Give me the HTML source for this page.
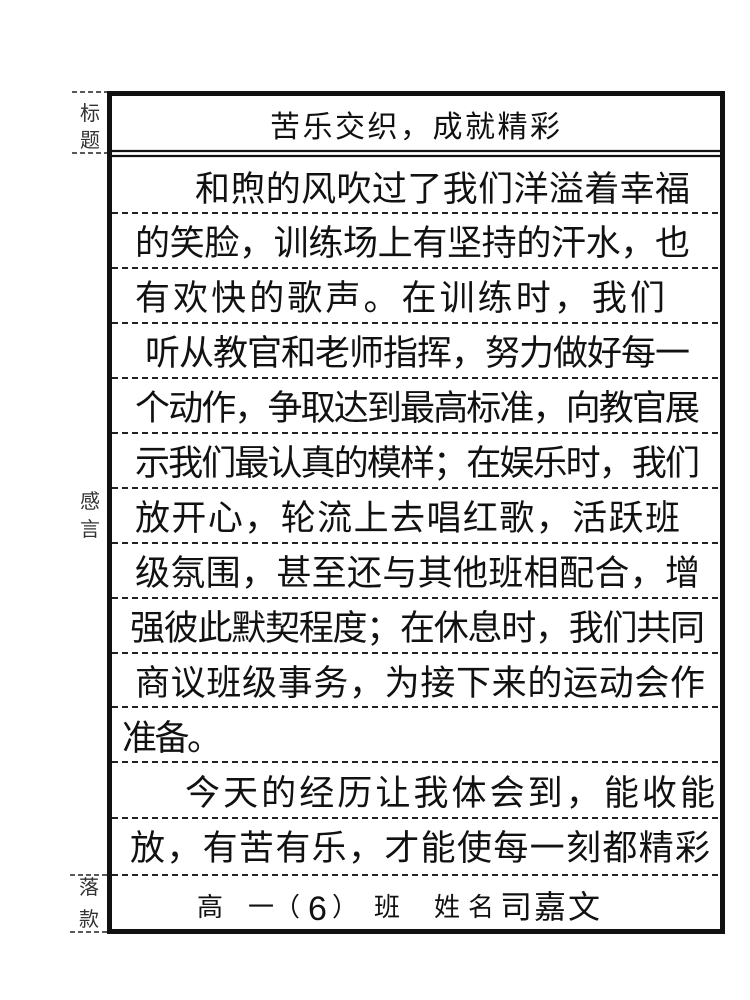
<!DOCTYPE html>
<html><head><meta charset="utf-8"><style>
html,body{margin:0;padding:0;background:#fff;}
svg{display:block;}
text{font-family:"Liberation Sans","Noto Sans CJK SC","WenQuanYi Zen Hei",sans-serif;fill:#111;}
.h{font-size:35px;font-weight:400;}
.l{font-size:20px;fill:#333;}
</style></head><body>
<svg width="750" height="1000" viewBox="0 0 750 1000" xmlns="http://www.w3.org/2000/svg">
<rect width="750" height="1000" fill="#fff"/>
<g stroke="#222" stroke-width="1.6" stroke-dasharray="5,3">
<line x1="72" y1="92" x2="108" y2="92"/>
<line x1="72" y1="153" x2="108" y2="153"/>
<line x1="70" y1="875" x2="108" y2="875"/>
<line x1="70" y1="932" x2="108" y2="932"/>
</g>
<text class="l" x="80" y="120">标</text>
<text class="l" x="80" y="147">题</text>
<text class="l" x="80" y="508">感</text>
<text class="l" x="80" y="536">言</text>
<text class="l" x="79" y="894">落</text>
<text class="l" x="79" y="926">款</text>
<rect x="109.5" y="93.5" width="613" height="838" fill="none" stroke="#111" stroke-width="5"/>
<line x1="110" y1="151" x2="722" y2="151" stroke="#111" stroke-width="2.2"/>
<line x1="110" y1="156" x2="722" y2="156" stroke="#111" stroke-width="2.2"/>
<g stroke="#222" stroke-width="2" stroke-dasharray="6,4">
<line x1="112" y1="213" x2="720" y2="213"/>
<line x1="112" y1="268" x2="720" y2="268"/>
<line x1="112" y1="323" x2="720" y2="323"/>
<line x1="112" y1="378" x2="720" y2="378"/>
<line x1="112" y1="433" x2="720" y2="433"/>
<line x1="112" y1="488" x2="720" y2="488"/>
<line x1="112" y1="543" x2="720" y2="543"/>
<line x1="112" y1="598" x2="720" y2="598"/>
<line x1="112" y1="653" x2="720" y2="653"/>
<line x1="112" y1="707" x2="720" y2="707"/>
<line x1="112" y1="762" x2="720" y2="762"/>
<line x1="112" y1="818" x2="720" y2="818"/>
<line x1="112" y1="875" x2="720" y2="875"/>
</g>
<text class="h" x="270" y="137" style="font-size:30px" textLength="290" lengthAdjust="spacing">苦乐交织，成就精彩</text>
<text class="h" x="195" y="201" textLength="495" lengthAdjust="spacing">和煦的风吹过了我们洋溢着幸福</text>
<text class="h" x="135" y="255" textLength="555" lengthAdjust="spacing">的笑脸，训练场上有坚持的汗水，也</text>
<text class="h" x="135" y="310" textLength="530" lengthAdjust="spacing">有欢快的歌声。在训练时，我们</text>
<text class="h" x="145" y="365" textLength="545" lengthAdjust="spacing">听从教官和老师指挥，努力做好每一</text>
<text class="h" x="135" y="420" textLength="565" lengthAdjust="spacing">个动作，争取达到最高标准，向教官展</text>
<text class="h" x="135" y="475" textLength="565" lengthAdjust="spacing">示我们最认真的模样；在娱乐时，我们</text>
<text class="h" x="135" y="530" textLength="545" lengthAdjust="spacing">放开心，轮流上去唱红歌，活跃班</text>
<text class="h" x="135" y="585" textLength="565" lengthAdjust="spacing">级氛围，甚至还与其他班相配合，增</text>
<text class="h" x="130" y="640" textLength="575" lengthAdjust="spacing">强彼此默契程度；在休息时，我们共同</text>
<text class="h" x="135" y="695" textLength="570" lengthAdjust="spacing">商议班级事务，为接下来的运动会作</text>
<text class="h" x="122" y="750" textLength="100" lengthAdjust="spacing">准备。</text>
<text class="h" x="185" y="805" textLength="530" lengthAdjust="spacing">今天的经历让我体会到，能收能</text>
<text class="h" x="130" y="860" textLength="580" lengthAdjust="spacing">放，有苦有乐，才能使每一刻都精彩</text>
<g style="font-size:26px">
<text x="197" y="916">高</text>
<text x="248" y="916">一（</text>
<text x="308" y="920" style="font-size:34px">6</text>
<text x="332" y="916">）</text>
<text x="374" y="916">班</text>
<text x="434" y="916" textLength="60" lengthAdjust="spacing">姓名</text>
<text x="500" y="918" style="font-size:32px" textLength="100" lengthAdjust="spacing">司嘉文</text>
</g>
</svg>
</body></html>
